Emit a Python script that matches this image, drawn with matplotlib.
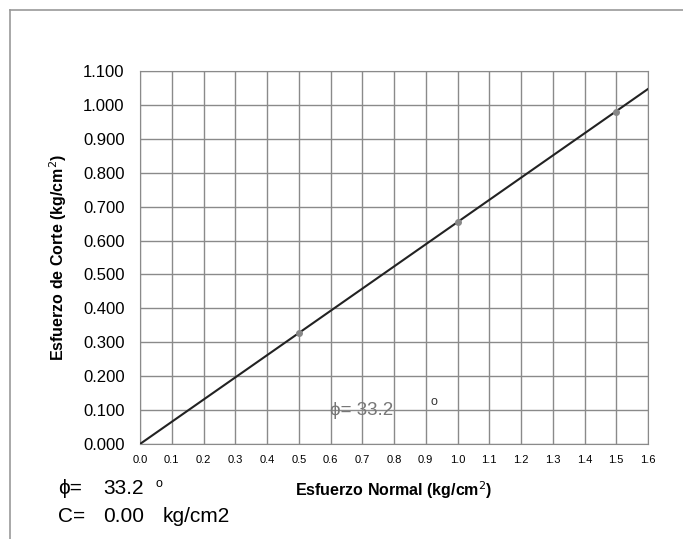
import numpy as np
import matplotlib
matplotlib.use("Agg")
import matplotlib.pyplot as plt
from matplotlib.lines import Line2D

plt.rcParams['font.family'] = ['Liberation Sans', 'DejaVu Sans']

# Data
normal_stress = [0.5, 1.0, 1.5]
shear_stress = [0.327, 0.654, 0.980]
phi_deg = 33.2
cohesion = 0.00
x_ticks = [round(0.1 * i, 1) for i in range(17)]
y_ticks = [round(0.1 * i, 1) for i in range(12)]

W, H = 683, 539
fig = plt.figure(figsize=(W / 100, H / 100), dpi=100)
ax = fig.add_axes([140 / W, 1 - 444 / H, 508 / W, 373 / H])

# frame lines of the figure
fig.add_artist(Line2D([10 / W, 1.0], [1 - 10 / H, 1 - 10 / H], transform=fig.transFigure, color='#999999', lw=1.2))
fig.add_artist(Line2D([10 / W, 10 / W], [0.0, 1 - 10 / H], transform=fig.transFigure, color='#999999', lw=1.2))

ax.set_xlim(0, 1.6)
ax.set_ylim(0, 1.1)
ax.set_xticks(x_ticks)
ax.set_yticks(y_ticks)
ax.set_xticklabels([f"{v:.1f}" for v in x_ticks], fontsize=8)
ax.set_yticklabels([f"{v:.3f}" for v in y_ticks], fontsize=12)
ax.grid(True, color='#8a8a8a', lw=1.0)
ax.set_axisbelow(True)
for s in ax.spines.values():
    s.set_color('#8a8a8a')
ax.tick_params(axis='y', length=0, pad=11)
ax.tick_params(axis='x', length=0, pad=8)

xl = np.array([0.0, 1.6])
ax.plot(xl, cohesion + xl * np.tan(np.radians(phi_deg)), color='#222222', lw=1.5, zorder=3)
ax.plot(normal_stress, shear_stress, 'o', color='#888888', ms=4, zorder=4)

ax.set_xlabel("Esfuerzo Normal (kg/cm$^2$)", fontsize=11.5, fontweight='bold', labelpad=10)
ax.set_ylabel("Esfuerzo de Corte (kg/cm$^2$)", fontsize=11.5, fontweight='bold', labelpad=10)

ax.text(0.598, 0.1, f"ϕ= {phi_deg}", fontsize=13.5, color='#777777', va='center')
ax.text(0.915, 0.124, "o", fontsize=9, color='#333333', va='center')

def ftxt(x, y, s, **kw):
    fig.text(x / W, 1 - y / H, s, va='center', **kw)

ftxt(58, 489, "ϕ=", fontsize=15)
ftxt(103, 489, f"{phi_deg}", fontsize=15)
ftxt(155, 484, "o", fontsize=9)
ftxt(58, 517, "C=", fontsize=15)
ftxt(103, 517, f"{cohesion:.2f}", fontsize=15)
ftxt(163, 517, "kg/cm2", fontsize=15)

fig.savefig("out.png", dpi=100)
